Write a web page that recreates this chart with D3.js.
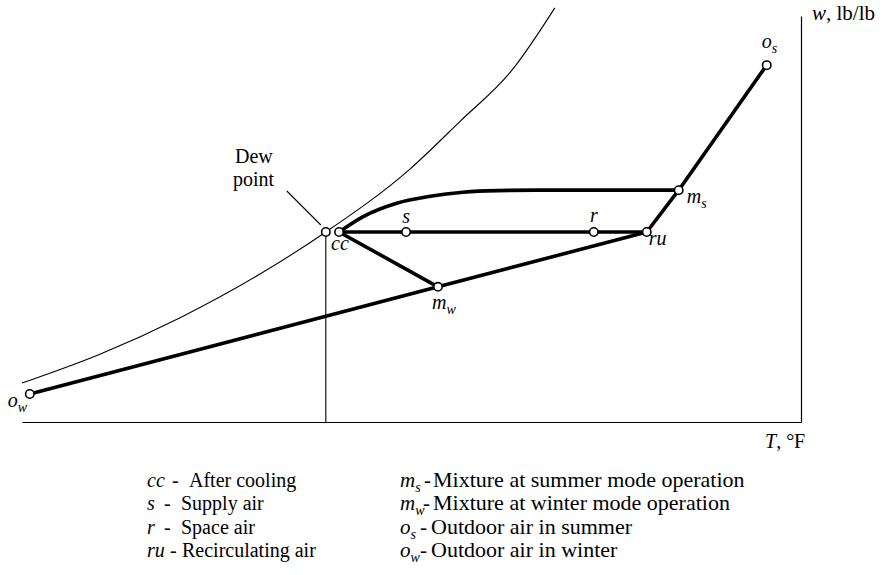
<!DOCTYPE html>
<html>
<head>
<meta charset="utf-8">
<script src="https://cdn.jsdelivr.net/npm/d3@7"></script>
<style>
  body { margin: 0; background: #fff; }
  svg { display: block; }
</style>
</head>
<body>
<svg id="chart" width="887" height="575"></svg>
<script>
// Air states on the psychrometric sketch (relative T and w, chart units 0–100)
const stateNames = ["ow", "dew", "cc", "s", "r", "ru", "ms", "os", "mw"];
const stateT     = [1.0, 39.0, 40.7, 49.3, 73.4, 80.2, 84.3, 95.6, 53.4];
const stateW     = [6.9, 46.8, 46.8, 46.8, 46.8, 46.8, 57.1, 87.9, 33.3];

// Saturation curve samples
const satT = [0, 10.0, 20.3, 30.6, 39.0, 49.8, 56.2, 63.0, 68.4];
const satW = [9.6, 16.7, 25.7, 36.5, 46.8, 62.3, 74.0, 86.9, 102.0];

// Cooling-coil process from cc out to the summer mixture m_s
const coilT = [40.7, 43.8, 48.1, 52.4, 56.6, 61.0, 66.0, 84.3];
const coilW = [46.8, 50.6, 53.9, 55.6, 56.6, 57.0, 57.1, 57.1];

// Straight process lines, as chains of states
const processChains = [
  ["ow", "mw", "ru", "ms", "os"],
  ["cc", "mw"],
  ["cc", "s", "r", "ru"]
];

// Legend entries
const legendLeftSym  = ["cc", "s", "r", "ru"];
const legendLeftText = ["After cooling", "Supply air", "Space air", "Recirculating air"];
const legendRightSym  = ["m", "m", "o", "o"];
const legendRightSub  = ["s", "w", "s", "w"];
const legendRightText = ["Mixture at  summer mode operation", "Mixture at winter mode operation",
                         "Outdoor air in summer", "Outdoor air in winter"];

const svg = d3.select("#chart");
const FONT = "'Liberation Serif', Tinos, 'Times New Roman', Times, serif";

const x = d3.scaleLinear().domain([0, 100]).range([22, 801]);
const y = d3.scaleLinear().domain([0, 100]).range([422, 16]);

const state = {};
stateNames.forEach((n, i) => { state[n] = [stateT[i], stateW[i]]; });

// Axes: bare lines, no ticks
svg.append("g")
  .attr("transform", `translate(0,${y(0)})`)
  .call(d3.axisBottom(x).ticks(0).tickSizeOuter(0))
  .call(g => g.select(".domain").attr("stroke", "#000").attr("stroke-width", 1.2));
svg.append("g")
  .attr("transform", `translate(${x(100)},0)`)
  .call(d3.axisRight(y).ticks(0).tickSizeOuter(0))
  .call(g => g.select(".domain").attr("stroke", "#000").attr("stroke-width", 1.2));

// Saturation curve
const smooth = d3.line().x(d => x(d[0])).y(d => y(d[1])).curve(d3.curveMonotoneX);
svg.append("path")
  .datum(satT.map((t, i) => [t, satW[i]]))
  .attr("d", smooth)
  .attr("fill", "none").attr("stroke", "#000").attr("stroke-width", 1.1);

// Dew-point drop line to the T axis
svg.append("line")
  .attr("x1", x(state.dew[0])).attr("x2", x(state.dew[0]))
  .attr("y1", y(state.dew[1])).attr("y2", y(0))
  .attr("stroke", "#000").attr("stroke-width", 1.1);

// Cooling-coil curve
svg.append("path")
  .datum(coilT.map((t, i) => [t, coilW[i]]))
  .attr("d", smooth)
  .attr("fill", "none").attr("stroke", "#000").attr("stroke-width", 3.6);

// Straight process lines
const straight = d3.line().x(d => x(d[0])).y(d => y(d[1]));
svg.selectAll("path.proc")
  .data(processChains)
  .join("path")
  .attr("class", "proc")
  .attr("d", c => straight(c.map(n => state[n])))
  .attr("fill", "none").attr("stroke", "#000").attr("stroke-width", 3.6)
  .attr("stroke-linejoin", "round");

// State markers
svg.selectAll("circle.st")
  .data(stateNames)
  .join("circle")
  .attr("class", "st")
  .attr("cx", n => x(state[n][0]))
  .attr("cy", n => y(state[n][1]))
  .attr("r", 4.2)
  .attr("fill", "#fff").attr("stroke", "#000").attr("stroke-width", 1.6);

function txt(xp, yp, size) {
  return svg.append("text")
    .attr("x", xp).attr("y", yp)
    .attr("font-family", FONT)
    .attr("font-size", size)
    .attr("fill", "#000");
}

// State labels
const labelStyle = {
  ow: { main: "o", sub: "w", dx: -22, dy: 13, anchor: "start" },
  cc: { main: "cc", sub: "", dx: -8, dy: 18, anchor: "start" },
  s:  { main: "s", sub: "", dx: 0, dy: -9, anchor: "middle" },
  r:  { main: "r", sub: "", dx: 0, dy: -10, anchor: "middle" },
  ru: { main: "ru", sub: "", dx: 2, dy: 13, anchor: "start" },
  ms: { main: "m", sub: "s", dx: 8, dy: 13, anchor: "start" },
  os: { main: "o", sub: "s", dx: -5, dy: -17, anchor: "start" },
  mw: { main: "m", sub: "w", dx: -6, dy: 22, anchor: "start" }
};
Object.keys(labelStyle).forEach(n => {
  const L = labelStyle[n];
  const t = txt(x(state[n][0]) + L.dx, y(state[n][1]) + L.dy, 20)
    .attr("text-anchor", L.anchor)
    .attr("font-style", "italic");
  t.append("tspan").text(L.main);
  if (L.sub) t.append("tspan").attr("dy", 5).attr("font-size", 14).text(L.sub);
});

// Dew point callout
const dx0 = x(state.dew[0]), dy0 = y(state.dew[1]);
svg.append("line")
  .attr("x1", dx0 - 39).attr("y1", dy0 - 41)
  .attr("x2", dx0 - 5).attr("y2", dy0 - 7)
  .attr("stroke", "#000").attr("stroke-width", 1.1);
txt(235, 163, 20).text("Dew");
txt(233, 186, 20).text("point");

// Axis titles
const wTitle = txt(812, 20, 21);
wTitle.append("tspan").attr("font-style", "italic").text("w");
wTitle.append("tspan").text(", lb/lb");
const tTitle = txt(765, 448, 20);
tTitle.append("tspan").attr("font-style", "italic").text("T");
tTitle.append("tspan").text(", \u00B0F");

// Legend
const rowY = [487, 510, 534, 557];
const leftDash = [172, 164, 164, 170];
const leftTextX = [189, 181, 181, 182];
legendLeftSym.forEach((s, i) => {
  txt(147, rowY[i], 20).attr("font-style", "italic").text(s);
  txt(leftDash[i], rowY[i], 20).text("-");
  txt(leftTextX[i], rowY[i], 20).text(legendLeftText[i]);
});
legendRightSym.forEach((s, i) => {
  const t = txt(400, rowY[i], 21).attr("font-style", "italic");
  t.append("tspan").text(s);
  t.append("tspan").attr("dy", 5).attr("font-size", 14).text(legendRightSub[i]);
  txt(i === 1 ? 423 : (i >= 2 ? 420 : 424), rowY[i], 21).text("-");
  txt(i >= 2 ? 431 : 433, rowY[i], 22).text(legendRightText[i]);
});
</script>
</body>
</html>
